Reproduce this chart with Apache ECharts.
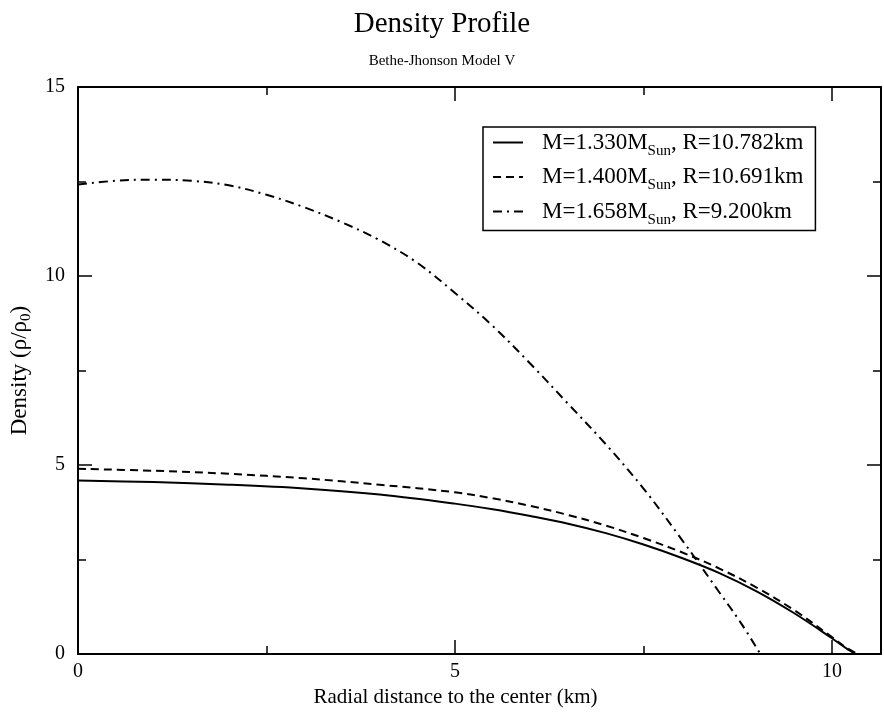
<!DOCTYPE html>
<html>
<head>
<meta charset="utf-8">
<script src="https://cdn.jsdelivr.net/npm/echarts@6/dist/echarts.min.js"></script>
<style>
html,body{margin:0;padding:0;background:#fff;}
#chart{width:884px;height:713px;}
</style>
</head>
<body>
<div id="chart"></div>
<script>
// Radial distance (km) and density (rho/rho0) for each model
const r1 = [0, 1, 2, 3, 4, 5, 5.5, 6, 6.5, 7, 7.5, 8, 8.5, 9, 9.5, 10, 10.2, 10.34, 10.65];
const rho1 = [4.59, 4.55, 4.48, 4.38, 4.22, 3.98, 3.83, 3.65, 3.45, 3.20, 2.90, 2.55, 2.15, 1.66, 1.08, 0.42, 0.14, 0, 0];

const r2 = [0, 1, 2, 3, 4, 5, 5.5, 6, 6.5, 7, 7.5, 8, 8.5, 9, 9.5, 10, 10.2, 10.38, 10.65];
const rho2 = [4.90, 4.85, 4.77, 4.65, 4.48, 4.28, 4.12, 3.92, 3.68, 3.40, 3.07, 2.70, 2.27, 1.76, 1.16, 0.45, 0.16, 0, 0];

const r3 = [0, 0.5, 1, 1.5, 2, 2.5, 3, 3.5, 4, 4.5, 5, 5.5, 6, 6.5, 7, 7.5, 8, 8.5, 8.8, 9.05];
const rho3 = [12.42, 12.52, 12.55, 12.52, 12.40, 12.15, 11.82, 11.42, 10.95, 10.35, 9.55, 8.68, 7.68, 6.62, 5.55, 4.38, 3.05, 1.65, 0.80, 0];

const legendNames = ['M=1.330M_Sun, R=10.782km', 'M=1.400M_Sun, R=10.691km', 'M=1.658M_Sun, R=9.200km'];

const xMajor = [0, 5, 10];
const xMinor = [2.5, 7.5];
const yMajor = [0, 5, 10, 15];
const yMinor = [2.5, 7.5, 12.5];

const FONT = '"Liberation Serif", "DejaVu Serif", serif';
const X_MAX = 10.65, Y_MAX = 15;

function pairs(xs, ys) { return xs.map((x, i) => [x, ys[i]]); }

function xAx(pos, ticks, len, showLine, labels) {
  return {
    type: 'value', min: 0, max: X_MAX, position: pos,
    axisLine: {show: showLine, onZero: false, lineStyle: {color: '#000', width: 2}},
    axisTick: {show: true, inside: true, length: len, customValues: ticks, lineStyle: {color: '#000', width: 1.5}},
    axisLabel: labels ? {show: true, customValues: xMajor, fontFamily: FONT, fontSize: 20, color: '#000', margin: 8} : {show: false},
    splitLine: {show: false}
  };
}
function yAx(pos, ticks, len, showLine, labels) {
  return {
    type: 'value', min: 0, max: Y_MAX, position: pos,
    axisLine: {show: showLine, onZero: false, lineStyle: {color: '#000', width: 2}},
    axisTick: {show: true, inside: true, length: len, customValues: ticks, lineStyle: {color: '#000', width: 1.5}},
    axisLabel: labels ? {show: true, customValues: yMajor, fontFamily: FONT, fontSize: 20, color: '#000', margin: 13} : {show: false},
    splitLine: {show: false}
  };
}

const xAxes = [xAx('bottom', xMajor, 14, true, true), xAx('bottom', xMinor, 8, false, false),
               xAx('top', xMajor, 14, true, false), xAx('top', xMinor, 8, false, false)];
const yAxes = [yAx('left', yMajor, 14, true, true), yAx('left', yMinor, 8, false, false),
               yAx('right', yMajor, 14, true, false), yAx('right', yMinor, 8, false, false)];

xAxes[0].name = 'Radial distance to the center (km)';
xAxes[0].nameLocation = 'middle';
xAxes[0].nameGap = 21;
xAxes[0].nameTextStyle = {fontFamily: FONT, fontSize: 21, color: '#000', verticalAlign: 'top', padding: [0, 48, 0, 0]};

yAxes[0].name = 'Density (ρ/ρ{sub|0})';
yAxes[0].nameLocation = 'middle';
yAxes[0].nameRotate = 90;
yAxes[0].nameGap = 44;
yAxes[0].nameTextStyle = {fontFamily: FONT, fontSize: 23, color: '#000',
  rich: {sub: {fontFamily: FONT, fontSize: 15, color: '#000', padding: [14, 0, 0, 0]}}};

const dashes = ['solid', [8, 5], [9, 5, 2, 5]];
const dataSets = [pairs(r1, rho1), pairs(r2, rho2), pairs(r3, rho3)];

const chart = echarts.init(document.getElementById('chart'), null, {renderer: 'canvas'});
chart.setOption({
  backgroundColor: '#fff',
  animation: false,
  title: [
    {text: 'Density Profile', left: 'center', top: 5,
     textStyle: {fontFamily: FONT, fontSize: 29, fontWeight: 'normal', color: '#000'}},
    {text: 'Bethe-Jhonson Model V', left: 'center', top: 49,
     textStyle: {fontFamily: FONT, fontSize: 15, fontWeight: 'normal', color: '#000'}}
  ],
  grid: {left: 77, right: 3, top: 87, bottom: 56, containLabel: false},
  xAxis: xAxes,
  yAxis: yAxes,
  legend: {
    orient: 'vertical', left: 483, top: 127,
    data: legendNames,
    backgroundColor: '#fff',
    borderColor: '#000', borderWidth: 1.5, borderRadius: 0,
    padding: [4, 12, 3, 9],
    itemWidth: 30, itemHeight: 14, itemGap: 7,
    itemStyle: {color: 'transparent', borderWidth: 0, opacity: 0},
    formatter: function (name) { return '{g| }' + name.replace('M_Sun', 'M{sub|Sun}'); },
    textStyle: {fontFamily: FONT, fontSize: 23, color: '#000',
      rich: {
        g: {width: 14, fontSize: 23},
        sub: {fontFamily: FONT, fontSize: 15, color: '#000', padding: [17, 0, 0, 0]}
      }}
  },
  series: dataSets.map((d, i) => ({
    name: legendNames[i],
    type: 'line',
    xAxisIndex: 0, yAxisIndex: 0,
    data: d,
    smooth: 0.35,
    showSymbol: false, symbol: 'none',
    lineStyle: {color: '#000', width: 2, type: dashes[i]},
    itemStyle: {color: '#000'}
  }))
});
</script>
</body>
</html>
